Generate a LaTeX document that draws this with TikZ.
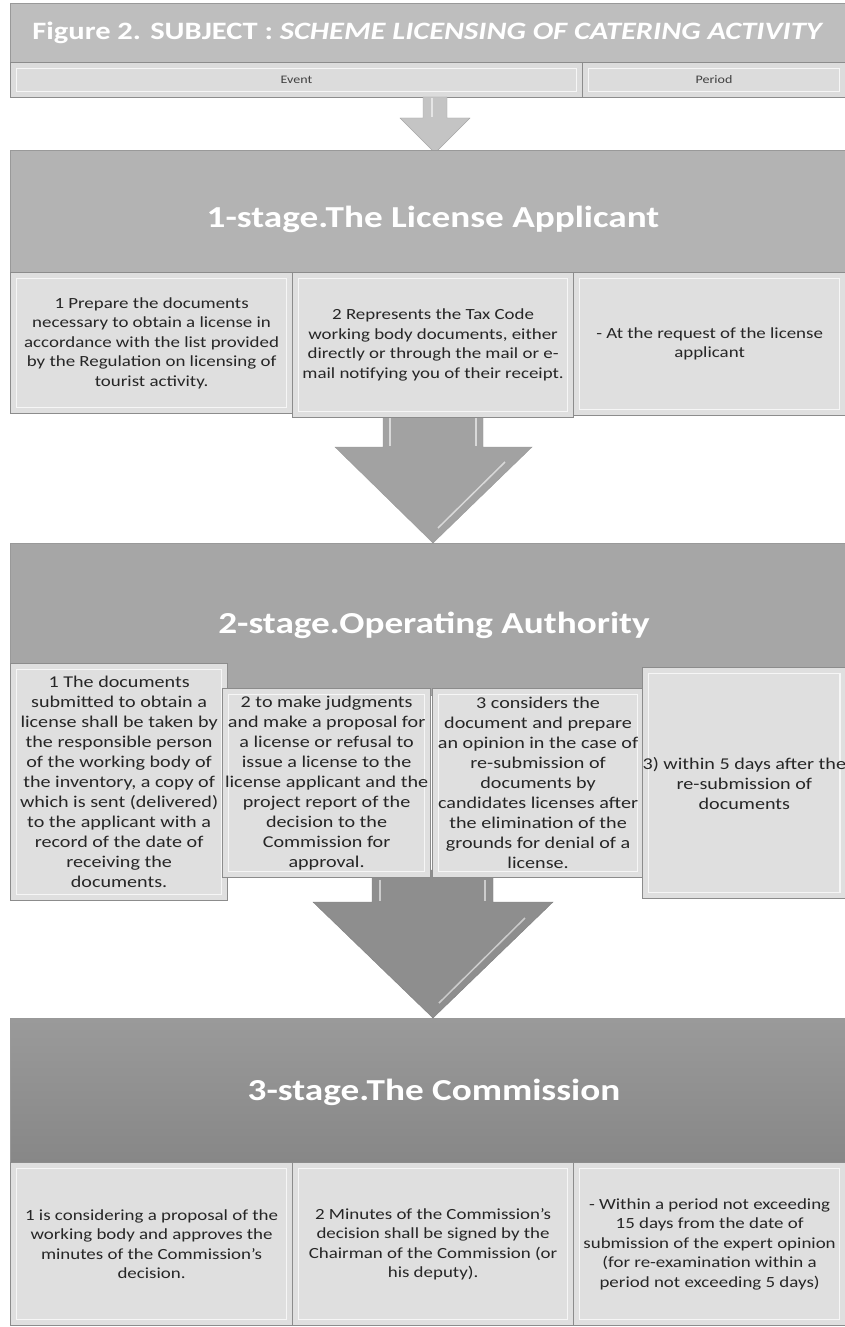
\documentclass[tikz,border=0pt]{standalone}
\usepackage{fontspec}
\setmainfont{Carlito}[FakeStretch=1.22]
\definecolor{titlegray}{HTML}{BEBEBE}
\definecolor{headgray}{HTML}{DCDCDC}
\definecolor{cellgray}{HTML}{DFDFDF}
\definecolor{stageone}{HTML}{B3B3B3}
\definecolor{stagetwo}{HTML}{A6A6A6}
\definecolor{stagethreetop}{HTML}{9A9A9A}
\definecolor{stagethreebot}{HTML}{878787}
\definecolor{arrowone}{HTML}{A2A2A2}
\definecolor{arrowtwo}{HTML}{8E8E8E}
\newcommand\celltxt{\fontsize{15.5}{19.5}\selectfont}
\newcommand\stagetxt{\fontsize{30.5}{34}\selectfont\bfseries}
\tikzset{
  bevel/.style={path picture={\draw [white, line width=1.6pt, opacity=0.75]
      ([xshift=6pt,yshift=-6pt]path picture bounding box.north west) rectangle
      ([xshift=-6pt,yshift=6pt]path picture bounding box.south east);}},
  cellbox/.style={anchor=north west, inner sep=0pt, fill=cellgray, draw=black!45,
      line width=1.2pt, align=center, text=black!85, font=\celltxt, bevel},
  stagebox/.style={anchor=north west, inner sep=0pt, draw=black!40, line width=1pt,
      text=white, font=\stagetxt},
  headbox/.style={anchor=north west, inner sep=0pt, fill=headgray, draw=black!45,
      line width=1pt, minimum height=35pt, text=black!75,
      font=\fontsize{11.5}{13}\selectfont, bevel},
}
\begin{document}
\begin{tikzpicture} [x=1pt,y=-1pt]
		\useasboundingbox [fill=white] (0,0) rectangle (845,1327);
		% title and header
		\node [stagebox, fill=titlegray, minimum width=835pt, minimum height=59pt,
		  font=\fontsize{25}{28}\selectfont\bfseries] (title) at (10,3)
		  {Figure 2. SUBJECT : \textit{SCHEME LICENSING OF CATERING ACTIVITY}};
		\node [headbox, minimum width=572pt] (event) at (10,62) {Event};
		\node [headbox, minimum width=263pt] (period) at (582,62) {Period};
		\draw [fill=black!23, draw=black!35] (423,97) -- (447,97) -- (447,118) -- (470,118)
		  -- (435,153) -- (400,118) -- (423,118) -- cycle;
		\draw [white!90!black, line width=1.5pt] (432,98) -- (432,117);
		% stage panels
		\node [stagebox, fill=stageone, minimum width=835pt, minimum height=122pt] (s1) at (10,150) {};
		\node [stagebox, fill=stagetwo, minimum width=835pt, minimum height=152pt] (s2) at (10,543) {};
		\node [stagebox, top color=stagethreetop, bottom color=stagethreebot, minimum width=835pt,
		  minimum height=144pt] (s3) at (10,1018) {};
		\node [text=white, font=\stagetxt] (s1t) at (433,219) {1-stage.The License Applicant};
		\node [text=white, font=\stagetxt] (s2t) at (434,625) {2-stage.Operating Authority};
		\node [text=white, font=\stagetxt] (s3t) at (434,1092) {3-stage.The Commission};
		% big arrows
		\draw [fill=arrowone, draw=black!40] (383,395) -- (483,395) -- (483,447) -- (532,447)
		  -- (433,543) -- (335,447) -- (383,447) -- cycle;
		\draw [white!85!black, line width=1.5pt] (390,418) -- (390,446) (476,418) -- (476,446);
		\draw [white!85!black, line width=1.5pt] (505,462) -- (438,528);
		\draw [fill=arrowtwo, draw=black!50] (372,870) -- (493,870) -- (493,902) -- (553,902)
		  -- (433,1018) -- (313,902) -- (372,902) -- cycle;
		\draw [white!80!black, line width=1.5pt] (380,880) -- (380,901) (485,880) -- (485,901);
		\draw [white!80!black, line width=1.5pt] (525,918) -- (439,1003);
		% stage 1 cells
		\node [cellbox, minimum width=282pt, minimum height=141pt] (c11) at (10,272)
		  {1 Prepare the documents\\ necessary to obtain a license in\\ accordance with the list provided\\
		   by the Regulation on licensing of\\ tourist activity.};
		\node [cellbox, minimum width=281pt, minimum height=145pt] (c12) at (292,272)
		  {2 Represents the Tax Code\\ working body documents, either\\ directly or through the mail or e-\\
		   mail notifying you of their receipt.};
		\node [cellbox, minimum width=272pt, minimum height=143pt] (c13) at (573,272)
		  {- At the request of the license\\ applicant};
		% stage 2 cells
		\node [cellbox, minimum width=217pt, minimum height=237pt, font=\fontsize{16.5}{20}\selectfont] (c21) at (10,663)
		  {1 The documents\\ submitted to obtain a\\ license shall be taken by\\ the responsible person\\
		   of the working body of\\ the inventory, a copy of\\ which is sent (delivered)\\ to the applicant with a\\
		   record of the date of\\ receiving the\\ documents.};
		\node [cellbox, minimum width=208pt, minimum height=189pt, font=\fontsize{16.5}{20}\selectfont] (c22) at (222,688)
		  {2 to make judgments\\ and make a proposal for\\ a license or refusal to\\ issue a license to the\\
		   license applicant and the\\ project report of the\\ decision to the\\ Commission for\\ approval.};
		\node [cellbox, minimum width=211pt, minimum height=189pt, font=\fontsize{16.5}{20}\selectfont] (c23) at (432,688)
		  {3 considers the\\ document and prepare\\ an opinion in the case of\\ re-submission of\\
		   documents by\\ candidates licenses after\\ the elimination of the\\ grounds for denial of a\\ license.};
		\node [cellbox, minimum width=203pt, minimum height=231pt, font=\fontsize{16.5}{20}\selectfont] (c24) at (642,667)
		  {3) within 5 days after the\\ re-submission of\\ documents};
		% stage 3 cells
		\node [cellbox, minimum width=282pt, minimum height=163pt] (c31) at (10,1162)
		  {1 is considering a proposal of the\\ working body and approves the\\ minutes of the Commission's\\ decision.};
		\node [cellbox, minimum width=281pt, minimum height=163pt] (c32) at (292,1162)
		  {2 Minutes of the Commission's\\ decision shall be signed by the\\ Chairman of the Commission (or\\ his deputy).};
		\node [cellbox, minimum width=272pt, minimum height=163pt] (c33) at (573,1162)
		  {- Within a period not exceeding\\ 15 days from the date of\\ submission of the expert opinion\\
		   (for re-examination within a\\ period not exceeding 5 days)};
	\end{tikzpicture}
\end{document}
